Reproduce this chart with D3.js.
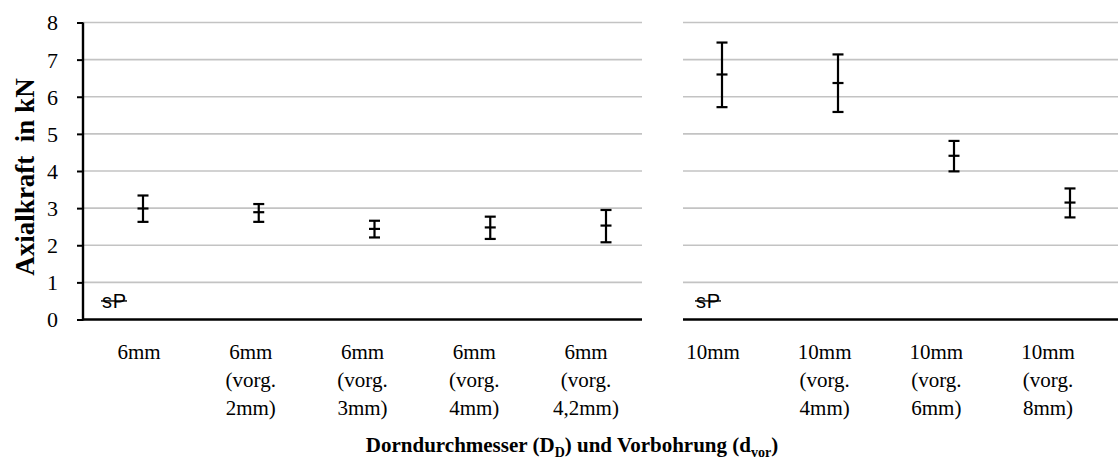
<!DOCTYPE html>
<html>
<head>
<meta charset="utf-8">
<script src="https://cdn.jsdelivr.net/npm/d3@7"></script>
<style>
  html, body { margin: 0; padding: 0; background: #fff; }
  svg { display: block; }
</style>
</head>
<body>
<svg id="chart" width="1118" height="475"></svg>
<script>
// Axial force per mandrel diameter / pre-drilling, mean with min–max range
const leftCategories = [
  ["6mm"],
  ["6mm", "(vorg.", "2mm)"],
  ["6mm", "(vorg.", "3mm)"],
  ["6mm", "(vorg.", "4mm)"],
  ["6mm", "(vorg.", "4,2mm)"]
];
const rightCategories = [
  ["10mm"],
  ["10mm", "(vorg.", "4mm)"],
  ["10mm", "(vorg.", "6mm)"],
  ["10mm", "(vorg.", "8mm)"]
];
const leftMean = [2.99, 2.89, 2.44, 2.48, 2.53];
const leftUpper = [3.34, 3.11, 2.66, 2.77, 2.95];
const leftLower = [2.63, 2.63, 2.21, 2.17, 2.08];
const rightMean = [6.60, 6.37, 4.41, 3.15];
const rightUpper = [7.46, 7.14, 4.81, 3.53];
const rightLower = [5.72, 5.59, 3.99, 2.75];
const markerLabel = "sP";
const markerValue = 0.5;
const yTicks = [0, 1, 2, 3, 4, 5, 6, 7, 8];
const yTitle = "Axialkraft  in kN";

const svg = d3.select("#chart");
const serif = "'Liberation Serif', 'Times New Roman', serif";

const y = d3.scaleLinear().domain([0, 8]).range([319.5, 22.5]);

// two panels: gridline extent, label positions, marker positions
const panels = [
  {
    cats: leftCategories, mean: leftMean, up: leftUpper, lo: leftLower,
    grid: [83, 642], labelRange: [139, 586], markRange: [143, 606], tagX: 102
  },
  {
    cats: rightCategories, mean: rightMean, up: rightUpper, lo: rightLower,
    grid: [683, 1118], labelRange: [713, 1048], markRange: [722, 1070], tagX: 696
  }
];

panels.forEach(p => {
  const idx = d3.range(p.cats.length);
  const xl = d3.scalePoint().domain(idx).range(p.labelRange);
  const xm = d3.scalePoint().domain(idx).range(p.markRange);
  const g = svg.append("g");

  // horizontal gridlines
  g.selectAll("line.grid").data(yTicks.filter(t => t > 0)).join("line")
    .attr("class", "grid")
    .attr("x1", p.grid[0]).attr("x2", p.grid[1])
    .attr("y1", d => y(d)).attr("y2", d => y(d))
    .attr("stroke", "#c3c3c3").attr("stroke-width", 1.6);

  // baseline
  g.append("line")
    .attr("x1", p.grid[0]).attr("x2", p.grid[1])
    .attr("y1", y(0)).attr("y2", y(0))
    .attr("stroke", "#000").attr("stroke-width", 2.4);

  // error bars
  const cap = 5.5;
  const bars = g.selectAll("g.bar").data(idx).join("g").attr("class", "bar");
  bars.append("line")
    .attr("x1", i => xm(i)).attr("x2", i => xm(i))
    .attr("y1", i => y(p.up[i])).attr("y2", i => y(p.lo[i]))
    .attr("stroke", "#000").attr("stroke-width", 2.2);
  [p.up, p.lo, p.mean].forEach(arr => {
    bars.append("line")
      .attr("x1", i => xm(i) - cap).attr("x2", i => xm(i) + cap)
      .attr("y1", i => y(arr[i])).attr("y2", i => y(arr[i]))
      .attr("stroke", "#000").attr("stroke-width", 2.2);
  });

  // category labels
  const lab = g.selectAll("text.cat").data(idx).join("text")
    .attr("class", "cat")
    .attr("text-anchor", "middle")
    .attr("font-family", serif).attr("font-size", 21)
    .attr("fill", "#000");
  lab.each(function(i) {
    const t = d3.select(this);
    p.cats[i].forEach((line, k) => {
      t.append("tspan").attr("x", xl(i)).attr("y", 359 + k * 28).text(line);
    });
  });

  // sP marker
  g.append("text")
    .attr("x", p.tagX).attr("y", y(markerValue) + 7)
    .attr("font-family", "'Liberation Sans', Arial, sans-serif")
    .attr("font-size", 20).attr("fill", "#000")
    .attr("textLength", 24)
    .text(markerLabel);
  g.append("line")
    .attr("x1", p.tagX - 1).attr("x2", p.tagX + 25)
    .attr("y1", y(markerValue)).attr("y2", y(markerValue))
    .attr("stroke", "#000").attr("stroke-width", 1.4);
});

// y axis
const yAxis = d3.axisLeft(y).tickValues(yTicks).tickSize(6).tickPadding(19).tickFormat(d3.format("d"));
const ga = svg.append("g").attr("transform", "translate(83,0)").call(yAxis);
ga.select(".domain").attr("stroke", "#000").attr("stroke-width", 2.4)
  .attr("d", `M0,${y(8)}V${y(0) + 1}`);
ga.selectAll(".tick line").attr("stroke", "#000").attr("stroke-width", 2);
ga.selectAll(".tick text")
  .attr("font-family", serif).attr("font-size", 22).attr("fill", "#000")
  .attr("dy", "0.34em");

// y title
svg.append("text")
  .attr("transform", "translate(34,177) rotate(-90)")
  .attr("text-anchor", "middle")
  .attr("font-family", serif).attr("font-weight", "bold").attr("font-size", 27)
  .attr("xml:space", "preserve")
  .style("white-space", "pre")
  .text(yTitle);

// x title with subscripts
const xt = svg.append("text")
  .attr("x", 572).attr("y", 452)
  .attr("text-anchor", "middle")
  .attr("font-family", serif).attr("font-weight", "bold").attr("font-size", 21);
xt.append("tspan").text("Dorndurchmesser (D");
xt.append("tspan").attr("font-size", 14).attr("dy", 5).text("D");
xt.append("tspan").attr("dy", -5).text(") und Vorbohrung (d");
xt.append("tspan").attr("font-size", 14).attr("dy", 5).text("vor");
xt.append("tspan").attr("dy", -5).text(")");
</script>
</body>
</html>
